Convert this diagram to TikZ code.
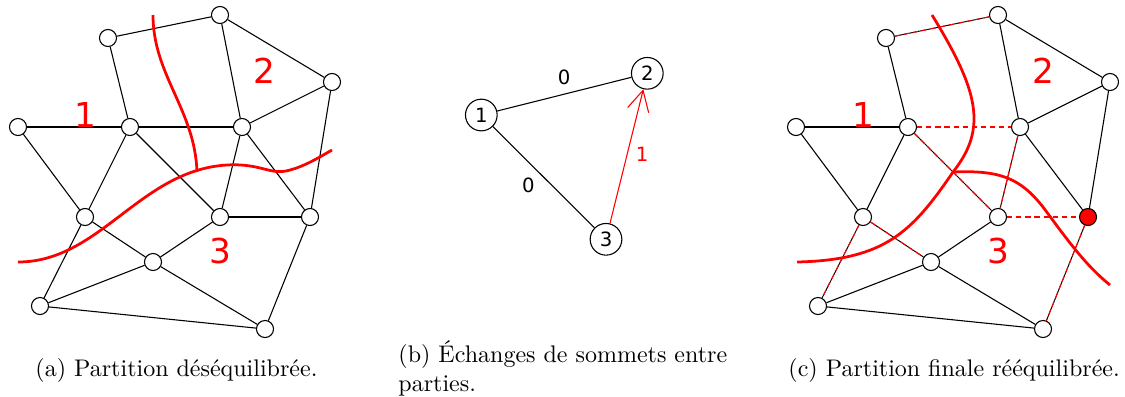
\documentclass[tikz,border=0pt]{standalone}
\usepackage{fontspec}
\newfontfamily\dejavu{DejaVu Sans}
\usetikzlibrary{arrows.meta}
\begin{document}
\begin{tikzpicture}[x=0.41667pt,y=-0.41667pt,
  vtx/.style={circle,draw,fill=white,line width=0.45pt,minimum size=7.1pt,inner sep=0pt},
  edge/.style={line width=0.45pt},
  cutedge/.style={edge,red,dash pattern=on 2.2pt off 1.6pt,preaction={draw,black,solid}},
  gone/.style={edge,red,dash pattern=on 2.2pt off 1.6pt},
  part/.style={red,line width=1.15pt},
  plab/.style={red,inner sep=0pt,font=\dejavu\fontsize{14.3}{15}\selectfont},
  bnode/.style={circle,draw,line width=0.45pt,minimum size=13.2pt,inner sep=0pt,font=\dejavu\fontsize{8.2}{9}\selectfont},
  blab/.style={inner sep=0pt,font=\dejavu\fontsize{8.2}{9}\selectfont},
  captext/.style={inner sep=0pt,font=\fontsize{10}{12.2}\selectfont}
]
\useasboundingbox (0,0) rectangle (1125,396);

% ---------- (a) ----------
\node[vtx] (a1) at (108,38) {};
\node[vtx] (a2) at (220,15) {};
\node[vtx] (a3) at (332,82) {};
\node[vtx] (a4) at (18,127) {};
\node[vtx] (a5) at (130,127) {};
\node[vtx] (a6) at (242,127) {};
\node[vtx] (a7) at (85,217) {};
\node[vtx] (a8) at (220,217) {};
\node[vtx] (a9) at (310,217) {};
\node[vtx] (a10) at (153,262) {};
\node[vtx] (a11) at (40,306) {};
\node[vtx] (a12) at (265,329) {};
\foreach \u/\v in {1/2,1/5,2/6,2/3,3/6,3/9,4/5,4/7,5/6,5/7,5/8,6/8,6/9,7/10,7/11,8/10,8/9,10/11,10/12,11/12,9/12}
  \draw[edge] (a\u) -- (a\v);
\draw[part] (153,15) .. controls (153,75) and (195,110) .. (197,172);
\draw[part] (18,262) .. controls (100,262) and (140,170) .. (227,165)
  .. controls (262,163) and (270,176) .. (290,170)
  .. controls (305,166) and (318,158) .. (332,150);
\node[plab] (la1) at (85,115) {1};
\node[plab] (la2) at (264.5,71) {2};
\node[plab] (la3) at (220,251) {3};

% ---------- (b) ----------
\node[bnode] (b1) at (481.3,115) {1};
\node[bnode] (b2) at (647.3,73.3) {2};
\node[bnode] (b3) at (606,239.3) {3};
\draw[edge] (b1) -- (b2);
\draw[edge] (b1) -- (b3);
\draw[edge,red,-{Straight Barb[length=8.5pt,width=9pt]}] (b3) -- (b2);
\node[blab] (lb12) at (564,77.8) {0};
\node[blab] (lb13) at (528.3,185.8) {0};
\node[blab,red] (lb32) at (642,154.3) {1};

% ---------- (c) ----------
\node[vtx] (c1) at (886,38) {};
\node[vtx] (c2) at (998,15) {};
\node[vtx] (c3) at (1110,82) {};
\node[vtx] (c4) at (796,127) {};
\node[vtx] (c5) at (908,127) {};
\node[vtx] (c6) at (1020,127) {};
\node[vtx] (c7) at (863,217) {};
\node[vtx] (c8) at (998,217) {};
\node[vtx,fill=red] (c9) at (1088,217) {};
\node[vtx] (c10) at (931,262) {};
\node[vtx] (c11) at (818,306) {};
\node[vtx] (c12) at (1043,329) {};
\foreach \u/\v in {1/5,2/6,2/3,3/6,3/9,4/5,4/7,5/7,6/9,8/10,10/11,10/12,11/12}
  \draw[edge] (c\u) -- (c\v);
\foreach \u/\v in {1/2,5/8,6/8,7/10,7/11,9/12}
  \draw[cutedge] (c\u) -- (c\v);
\draw[gone] (c5) -- (c6);
\draw[gone] (c8) -- (c9);
\draw[part] (932,15) .. controls (978,90) and (988,128) .. (953,172)
  .. controls (912,232) and (885,260) .. (797,262);
\draw[part] (953,172) .. controls (1000,170) and (1020,178) .. (1043,207)
  .. controls (1066,238) and (1085,265) .. (1110,285);
\node[plab] (lc1) at (863,115) {1};
\node[plab] (lc2) at (1043,71) {2};
\node[plab] (lc3) at (998,251) {3};

% ---------- captions ----------
\node[captext,anchor=base west] (capa) at (35,376) {(a) Partition déséquilibrée.};
\node[captext,anchor=base west] (capb1) at (398,362) {(b) Échanges de sommets entre};
\node[captext,anchor=base west] (capb2) at (398,391) {parties.};
\node[captext,anchor=base west] (capc) at (788,376) {(c) Partition finale rééquilibrée.};
\end{tikzpicture}
\end{document}
